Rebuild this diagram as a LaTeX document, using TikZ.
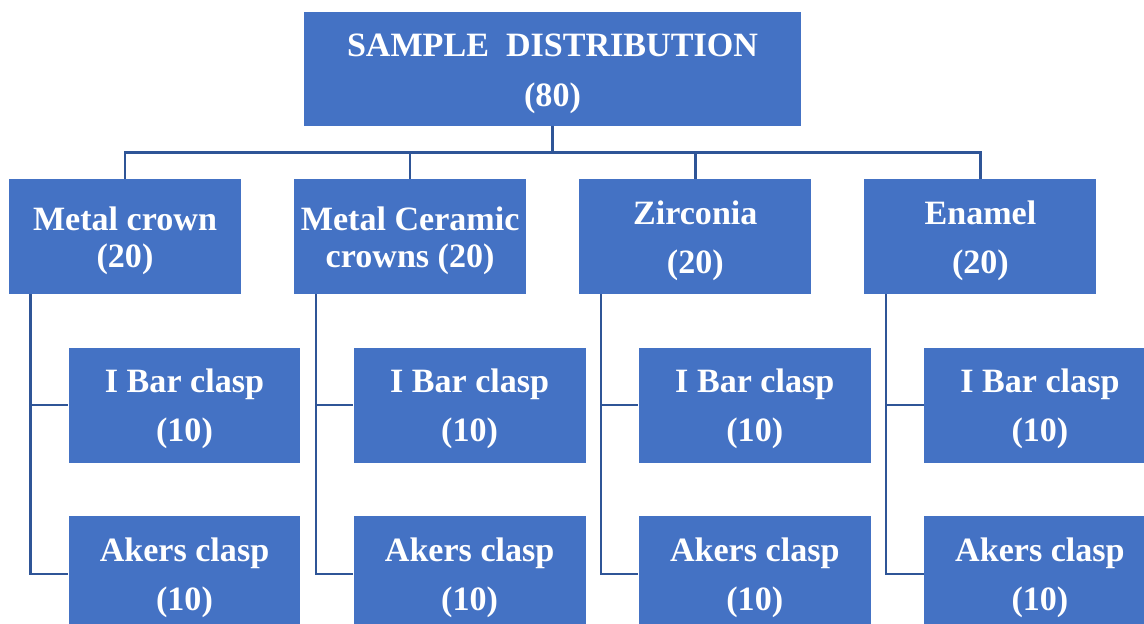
\documentclass[tikz,border=0pt]{standalone}
\usepackage{fontspec}
\setmainfont{Liberation Serif}
\usepackage{xcolor}
\usetikzlibrary{positioning}
\definecolor{boxblue}{RGB}{68,114,196}
\definecolor{lineblue}{RGB}{47,85,151}
\newcommand{\toppad}{\rule{0pt}{18pt}}

\begin{document}
\begin{tikzpicture}[
        x=0.02cm, y=-0.02cm,
        catbox/.style={rectangle, fill=boxblue, text=white, align=center, inner sep=2pt,
            font=\fontsize{19.4}{21}\selectfont\bfseries, minimum width=4.64cm, minimum height=2.3cm},
        topbox/.style={catbox, minimum width=9.94cm, minimum height=2.28cm},
        link/.style={draw=lineblue, line width=1.4pt}
    ]
        \clip (0,0) rectangle (1144,623);

        % Total
        \node[topbox] (top) at (552.5,69) {\toppad SAMPLE\ \ DISTRIBUTION \\[7.5pt] (80)};

        % Crown materials
        \node[catbox] (m1) at (125,236.5) {\toppad Metal crown \\ (20)};
        \node[catbox, right=1.05cm of m1] (m2) {\toppad Metal Ceramic \\ crowns (20)};
        \node[catbox, right=1.05cm of m2] (m3) {\toppad Zirconia \\[7pt] (20)};
        \node[catbox, right=1.05cm of m3] (m4) {\toppad Enamel \\[7pt] (20)};

        % I Bar clasps
        \node[catbox, below=1.06cm of m1, xshift=1.19cm] (i1) {\toppad I Bar clasp \\[7pt] (10)};
        \node[catbox, below=1.06cm of m2, xshift=1.19cm] (i2) {\toppad I Bar clasp \\[7pt] (10)};
        \node[catbox, below=1.06cm of m3, xshift=1.19cm] (i3) {\toppad I Bar clasp \\[7pt] (10)};
        \node[catbox, below=1.06cm of m4, xshift=1.19cm] (i4) {\toppad I Bar clasp \\[7pt] (10)};

        % Akers clasps
        \node[catbox, below=1.06cm of i1] (a1) {\toppad Akers clasp \\[7pt] (10)};
        \node[catbox, below=1.06cm of i2] (a2) {\toppad Akers clasp \\[7pt] (10)};
        \node[catbox, below=1.06cm of i3] (a3) {\toppad Akers clasp \\[7pt] (10)};
        \node[catbox, below=1.06cm of i4] (a4) {\toppad Akers clasp \\[7pt] (10)};

        % Lines
        \draw[link] (top.south) -- ++(0,26) -| (m1.north);
        \draw[link] (top.south) -- ++(0,26) -| (m2.north);
        \draw[link] (top.south) -- ++(0,26) -| (m3.north);
        \draw[link] (top.south) -- ++(0,26) -| (m4.north);

        \draw[link] ([xshift=0.44cm]m1.south west) |- (i1.west);
        \draw[link] ([xshift=0.44cm]m1.south west) |- (a1.west);
        \draw[link] ([xshift=0.44cm]m2.south west) |- (i2.west);
        \draw[link] ([xshift=0.44cm]m2.south west) |- (a2.west);
        \draw[link] ([xshift=0.44cm]m3.south west) |- (i3.west);
        \draw[link] ([xshift=0.44cm]m3.south west) |- (a3.west);
        \draw[link] ([xshift=0.44cm]m4.south west) |- (i4.west);
        \draw[link] ([xshift=0.44cm]m4.south west) |- (a4.west);
    \end{tikzpicture}
\end{document}
